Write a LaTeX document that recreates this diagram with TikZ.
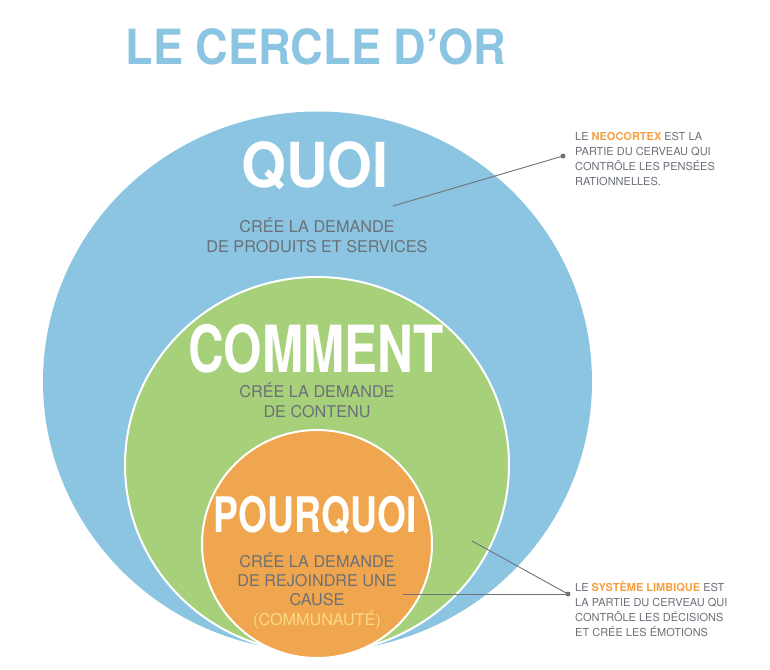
\documentclass[tikz,border=0pt]{standalone}
\usepackage{fontspec}
\setmainfont{TeX Gyre Heros}
\newfontfamily\titrefont[FakeStretch=0.93]{TeX Gyre Heros}
\newfontfamily\etroitfont[FakeStretch=0.76]{TeX Gyre Heros}
\usetikzlibrary{positioning}
\definecolor{bleu}{HTML}{8BC5E1}
\definecolor{vert}{HTML}{A6D07A}
\definecolor{orangec}{HTML}{F0A64E}
\definecolor{gristexte}{HTML}{6B7078}
\definecolor{jaune}{HTML}{FADA86}
\definecolor{accent}{HTML}{F4A041}
\definecolor{trait}{HTML}{6E7379}
\tikzset{
    % big white words
    mot/.style={
           anchor=base,
           text=white,
           inner sep=0pt,
           },
    % grey lines under the words (placed by their last line)
    soustexte/.style={
           anchor=base,
           align=center,
           text=gristexte,
           inner sep=0pt,
           font=\fontsize{16.2}{19.3}\selectfont,
           },
    note/.style={
           anchor=base west,
           align=left,
           text=gristexte,
           inner sep=0pt,
           font=\fontsize{11}{14.7}\selectfont,
           },
    lien/.style={
           draw=trait,
           line width=0.9pt,
           },
    point/.style={
           circle,
           fill=trait,
           inner sep=0pt,
           minimum size=5pt,
           }
}
\begin{document}
\begin{tikzpicture}[x=1pt,y=-1pt]
  	\useasboundingbox (0,0) rectangle (770,669);
  	\fill[bleu] (317.5,381.5) ellipse [x radius=274.5pt, y radius=270pt];
  	\draw[white, line width=2pt, fill=vert] (317,465) ellipse [x radius=192pt, y radius=188pt];
  	\draw[white, line width=2pt, fill=orangec] (317,544) ellipse [x radius=115pt, y radius=114pt];
  	\node (titre) at (316,64) [anchor=base, inner sep=0pt, text=bleu, font=\titrefont\bfseries\fontsize{48.5}{50}\selectfont] {LE CERCLE D’OR};
  	\node (quoi) at (315,187) [mot, font=\titrefont\bfseries\fontsize{62}{62}\selectfont] {QUOI};
  	\node (comment) at (316,372) [mot, font=\etroitfont\bfseries\fontsize{65}{65}\selectfont] {COMMENT};
  	\node (pourquoi) at (315,532) [mot, font=\etroitfont\bfseries\fontsize{49}{49}\selectfont] {POURQUOI};
  	\node (quoitexte) at (317,252) [soustexte] {CRÉE LA DEMANDE\\DE PRODUITS ET SERVICES};
  	\node (commenttexte) at (317,417) [soustexte] {CRÉE LA DEMANDE\\DE CONTENU};
  	\node (pourquoitexte) at (317,625) [soustexte] {CRÉE LA DEMANDE\\DE REJOINDRE UNE\\CAUSE\\\textcolor{jaune}{(COMMUNAUTÉ)}};
  	\node (neo) at (575,185) [note] {LE \textcolor{accent}{\bfseries NEOCORTEX} EST LA\\PARTIE DU CERVEAU QUI\\CONTRÔLE LES PENSÉES\\RATIONNELLES.};
  	\node (limbique) at (575,636) [note] {LE \textcolor{accent}{\bfseries SYSTÈME LIMBIQUE} EST\\LA PARTIE DU CERVEAU QUI\\CONTRÔLE LES DÉCISIONS\\ET CRÉE LES ÉMOTIONS};
  	\node (neopoint) at (563,156) [point] {};
  	\node (limbpoint) at (568,594) [point] {};
  	\coordinate (neodepart) at (393,206);
  	\coordinate (limbdepart) at (472,541);
  	\coordinate (causedepart) at (403,594);
  	\draw [lien] (neodepart) -- (neopoint.center);
  	\draw [lien] (limbdepart) -- (limbpoint.center);
  	\draw [lien] (causedepart) -- (limbpoint.center);
\end{tikzpicture}
\end{document}
